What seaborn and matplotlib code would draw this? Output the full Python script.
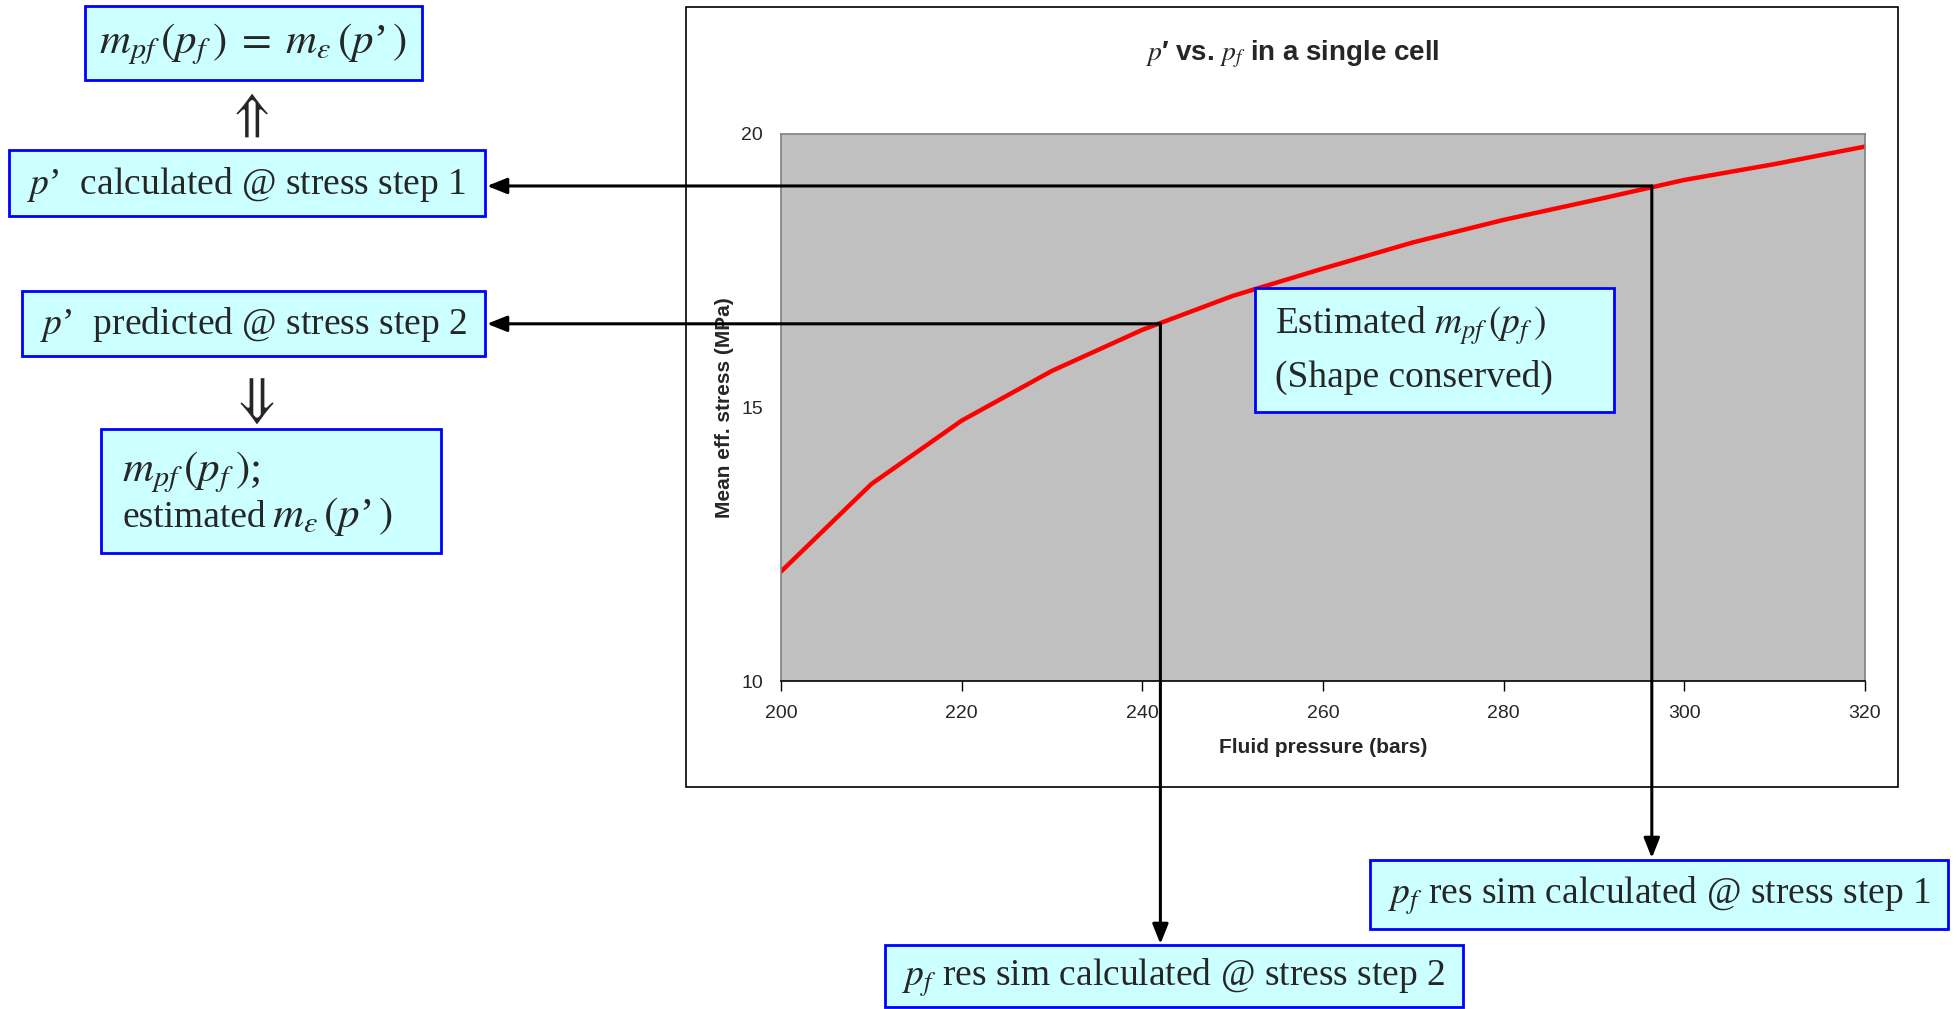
#!/usr/bin/env python3

import numpy as np
import matplotlib as mpl
from matplotlib import pyplot as plt
from matplotlib.patches import Rectangle
import seaborn as sns
import pandas as pd

sns.set_theme(style='white')
plt.rcParams['font.family'] = ['Liberation Sans', 'DejaVu Sans']
plt.rcParams['mathtext.fontset'] = 'stix'

# curve
fluid_pressure = [200, 210, 220, 230, 240, 250, 260, 270, 280, 290, 300, 310, 320]
mean_eff_stress = [12.0, 13.6, 14.76, 15.67, 16.42, 17.04, 17.54, 18.02, 18.43, 18.79, 19.16, 19.45, 19.77]

# points picked out on the curve (stress step 1, stress step 2)
step_pressure = [296.4, 242.0]
step_stress = [19.05, 16.53]

x_ticks = [200, 220, 240, 260, 280, 300, 320]
y_ticks = [10, 15, 20]

W, H = 1957, 1009
fig = plt.figure(figsize=(W / 100, H / 100), dpi=100)
fig.patch.set_facecolor('white')


def fx(px):
    return px / W


def fy(py):
    return 1 - py / H


# chart area frame
fig.patches.append(Rectangle((fx(686), fy(787)), fx(1898) - fx(686), fy(7) - fy(787),
                             transform=fig.transFigure, fill=False, edgecolor='black', lw=1.2, zorder=0.5))

ax = fig.add_axes([fx(781), fy(681), fx(1865) - fx(781), fy(134) - fy(681)])
df = pd.DataFrame({'pf': fluid_pressure, 'p': mean_eff_stress})
sns.lineplot(data=df, x='pf', y='p', color='red', lw=3.2, ax=ax)
ax.set_facecolor('#C0C0C0')
ax.set_xlim(200, 320)
ax.set_ylim(10, 20)
ax.set_xticks(x_ticks)
ax.set_yticks(y_ticks)
for s in ['top', 'right', 'left']:
    ax.spines[s].set_color('#808080')
    ax.spines[s].set_linewidth(1.2)
ax.spines['bottom'].set_color('black')
ax.spines['bottom'].set_linewidth(1.2)
ax.tick_params(axis='x', bottom=True, direction='out', length=7, width=1, color='black',
               labelsize=14, pad=10)
ax.tick_params(axis='y', left=False, labelsize=14, pad=7)
ax.set_xlabel('Fluid pressure (bars)', fontsize=15, fontweight='bold', labelpad=12)
ax.set_ylabel('Mean eff. stress (MPa)', fontsize=15, fontweight='bold', labelpad=5)

fig.text(fx(1292), fy(54), r"$p$′ vs. $p_f$ in a single cell", ha='center', va='center',
         fontsize=20, fontweight='bold')

# arrows from the curve to the boxes
arrow = dict(arrowstyle='-|>,head_length=1.0,head_width=0.4', color='black', lw=2.2,
             mutation_scale=12, shrinkA=0, shrinkB=0)
box_right = fx(487)
box_tops = [fy(858), fy(944)]
for xp, yp, top in zip(step_pressure, step_stress, box_tops):
    ax.annotate('', xy=(box_right, yp), xycoords=('figure fraction', 'data'),
                xytext=(xp, yp), textcoords='data', arrowprops=arrow, annotation_clip=False)
    ax.annotate('', xy=(xp, top), xycoords=('data', 'figure fraction'),
                xytext=(xp, yp), textcoords='data', arrowprops=arrow, annotation_clip=False)


def box(x0, y0, x1, y1):
    fig.patches.append(Rectangle((fx(x0), fy(y1)), fx(x1) - fx(x0), fy(y0) - fy(y1),
                                 transform=fig.transFigure, facecolor='#CCFFFF',
                                 edgecolor='#0000FF', lw=2.0, zorder=2))


serif = dict(family=['Liberation Serif', 'DejaVu Serif'], fontsize=27, zorder=3)
mserif = dict(family=['Liberation Serif', 'DejaVu Serif'], fontsize=31, zorder=3)

box(85, 6, 422, 80)
fig.text(fx(253), fy(44), r"$m_{pf}\,(p_f\,)\; = \;m_{\varepsilon}\,(p$’$\,)$", ha='center', va='center', **mserif)

fig.text(fx(248), fy(114), r"$\Uparrow$", ha='center', va='center', family='DejaVu Sans', fontsize=38)

box(9, 150, 485, 216)
fig.text(fx(247), fy(185), r"$p$’  calculated @ stress step 1", ha='center', va='center', **serif)

box(22, 291, 485, 356)
fig.text(fx(253), fy(325), r"$p$’  predicted @ stress step 2", ha='center', va='center', **serif)

fig.text(fx(252), fy(400), r"$\Downarrow$", ha='center', va='center', family='DejaVu Sans', fontsize=40)

box(101, 429, 441, 553)
fig.text(fx(122), fy(472), r"$m_{pf}\,(p_f\,)$;", ha='left', va='center', **mserif)
fig.text(fx(122), fy(518), "estimated", ha='left', va='center', **serif)
fig.text(fx(272), fy(516), r"$m_{\varepsilon}\,(p$’$\,)$", ha='left', va='center', **mserif)

box(1255, 288, 1614, 412)
fig.text(fx(1275), fy(326), r"Estimated $m_{pf}\,(p_f\,)$", ha='left', va='center', **serif)
fig.text(fx(1275), fy(377), "(Shape conserved)", ha='left', va='center', **serif)

box(1370, 860, 1948, 929)
fig.text(fx(1659), fy(896), r"$p_f$ res sim calculated @ stress step 1", ha='center', va='center', **serif)

box(885, 945, 1463, 1007)
fig.text(fx(1174), fy(978), r"$p_f$ res sim calculated @ stress step 2", ha='center', va='center', **serif)

fig.savefig('out.png', dpi=100)
